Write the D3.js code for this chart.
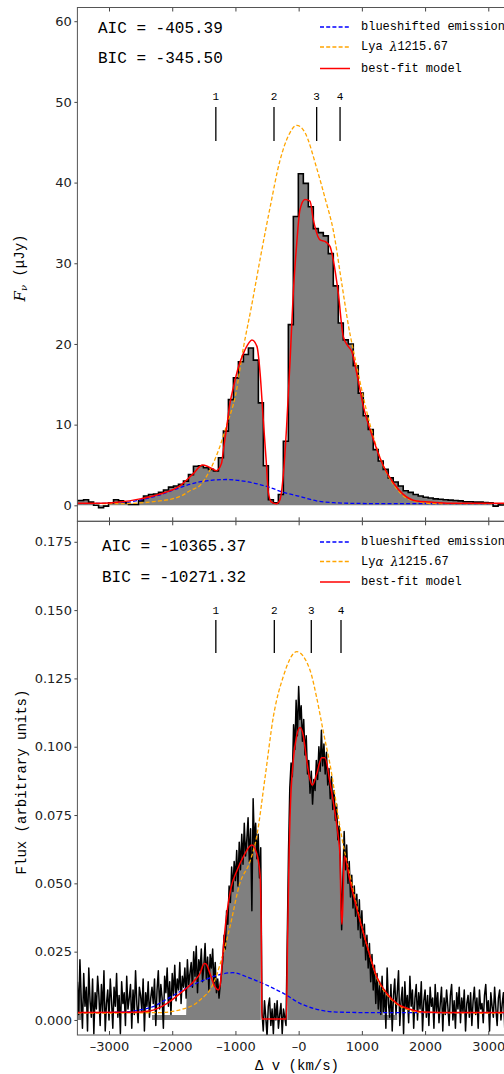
<!DOCTYPE html>
<html>
<head>
<meta charset="utf-8">
<script src="https://cdn.jsdelivr.net/npm/d3@7"></script>
<style>
  body { margin: 0; background: #fff; }
  svg { display: block; }
  .tt { font-family: "Liberation Mono", monospace; fill: #000; }
  .tick text { font-family: "DejaVu Sans", sans-serif; font-size: 13px; fill: #222; }
  .tick line { stroke: #444; }
</style>
</head>
<body>
<div id="chart"></div>
<script>
// ---- data ----
// top panel: binned spectrum (uJy), bins of 79 km/s starting at -3560
var topBinStart = -3560;
var topBinWidth = 79;
var topFlux = [0.6,
  0.6, 0.7, 0.4, 0.0, -0.3, -0.1, 0.3, 0.7, 0.55, 0.3,
  0.1, 0.1, 0.55, 1.15, 1.35, 1.4, 1.6, 1.9, 2.25, 2.4,
  2.6, 3.0, 3.8, 4.85, 4.9, 4.65, 4.45, 4.25, 5.9, 9.2,
  13.1, 15.8, 17.8, 18.7, 19.5, 18.0, 12.7, 4.9, 0.7, 0.3,
  1.35, 7.95, 22.4, 35.8, 41.1, 39.9, 37.0, 34.3, 33.8, 33.4,
  31.2, 27.2, 22.6, 20.5, 20.0, 17.3, 13.9, 11.1, 9.4, 6.9,
  5.5, 4.45, 3.4, 2.9, 2.4, 1.8, 1.6, 1.35, 1.15, 1.0,
  0.9, 0.8, 0.75, 0.7, 0.65, 0.6, 0.55, 0.45, 0.45, 0.4,
  0.4, 0.35, 0.3, -0.1, 0.05, 0.1, 0.1, 0.1];

// top panel model curves
var topRedV = [-3500, -3140, -2830, -2510, -2190, -1880, -1670, -1520, -1430, -1300,
  -1220, -1190, -1140, -1090, -1030, -950, -870, -790, -740, -660,
  -610, -560, -515, -480, -430, -350, -295, -240, -190, -135,
  -85, -30, 20, 100, 179, 232, 338, 417, 496, 548,
  627, 706, 785, 839, 918, 1023, 1181, 1339, 1497, 1655,
  1867, 2078, 2394, 3500];
var topRedF = [0.25, 0.25, 0.4, 0.8, 1.4, 2.4, 3.9, 5.0, 4.8, 4.3,
  5.2, 6.9, 9.6, 12.5, 14.7, 17.2, 18.9, 20.1, 20.5, 19.7,
  16.4, 10.6, 5.7, 1.6, 0.4, 0.2, 0.7, 4.0, 9.8, 18.0,
  26.3, 32.5, 36.6, 37.9, 37.7, 35.4, 32.9, 32.7, 32.1, 30.4,
  26.3, 20.9, 19.7, 19.1, 16.4, 12.3, 8.2, 4.9, 2.8, 1.36,
  0.53, 0.4, 0.25, 0.25];

var topLyaV = [-3500, -2800, -2500, -2200, -2000, -1850, -1700, -1570, -1400, -1250,
  -1140, -1000, -875, -750, -610, -450, -300, -150, -30, 100,
  285, 420, 550, 680, 785, 920, 1050, 1200, 1350, 1500,
  1650, 1850, 2100, 2500, 3500];
var topLyaF = [0.2, 0.22, 0.3, 0.55, 0.8, 1.2, 1.9, 2.4, 4.4, 7.2,
  9.9, 13.6, 19.5, 24.5, 30.5, 37.0, 42.6, 46.0, 47.1, 46.2,
  41.8, 38.0, 34.0, 27.6, 22.4, 17.2, 12.5, 8.0, 4.7, 2.6,
  1.2, 0.5, 0.25, 0.2, 0.2];

var topBlueV = [-3500, -2800, -2510, -2190, -1880, -1570, -1150, -800, -450, -240,
  0, 280, 550, 830, 1500, 3500];
var topBlueF = [0.2, 0.3, 0.66, 1.3, 2.2, 2.9, 3.2, 2.9, 2.2, 1.6,
  1.15, 0.55, 0.33, 0.25, 0.2, 0.2];

// bottom panel: spectrum sampled every 20 km/s from -3500
var botStart = -3500;
var botStep = 20;
var botFlux = [
  // -3500 .. -2320
  0.014, 0.002, 0.022, 0.008, -0.003, 0.017, 0.005, 0.012, -0.004, 0.019,
  0.007, 0.001, 0.015, -0.005, 0.010, 0.004, 0.016, 0.009, -0.002, 0.013,
  0.003, 0.018, -0.004, 0.006, 0.011, 0.000, 0.015, 0.007, -0.003, 0.012,
  0.005, 0.017, 0.001, 0.009, -0.005, 0.014, 0.006, 0.010, -0.002, 0.016,
  0.004, 0.008, 0.013, -0.003, 0.011, 0.002, 0.018, 0.006, -0.001, 0.012,
  0.009, 0.003, 0.015, -0.004, 0.010, 0.005, 0.014, 0.001, 0.008, 0.012,
  // -2300 .. -1720
  0.006, 0.015, -0.002, 0.011, 0.018, 0.004, 0.013, 0.008, -0.003, 0.016,
  0.010, 0.019, 0.005, 0.014, 0.002, 0.017, 0.009, 0.020, 0.007, 0.015,
  0.011, 0.021, 0.006, 0.016, 0.012, 0.019, 0.008, 0.022, 0.013, 0.017,
  // -1700 .. -1320
  0.021, 0.012, 0.025, 0.016, 0.027, 0.010, 0.022, 0.018, 0.026, 0.014,
  0.020, 0.028, 0.015, 0.023, 0.011, 0.024, 0.019, 0.026, 0.013, 0.021,
  // -1300 .. -1220
  0.010, 0.015, 0.008, 0.013, 0.017,
  // -1200 .. -600
  0.022, 0.031, 0.026, 0.040, 0.035, 0.049, 0.043, 0.056, 0.047, 0.058,
  0.051, 0.062, 0.049, 0.065, 0.055, 0.068, 0.057, 0.072, 0.060, 0.066,
  0.074, 0.058, 0.070, 0.040, 0.081, 0.064, 0.072, 0.059, 0.068, 0.052,
  0.063,
  // -580 .. -200
  0.003, -0.004, 0.007, 0.001, -0.006, 0.005, 0.008, -0.002, 0.004, -0.005,
  0.006, 0.000, 0.007, -0.003, 0.002, 0.006, -0.005, 0.004, 0.001, -0.002,
  // -180 .. 1300
  0.030, 0.062, 0.085, 0.094, 0.089, 0.108, 0.099, 0.117, 0.104, 0.122,
  0.110, 0.115, 0.102, 0.110, 0.097, 0.104, 0.090, 0.095, 0.083, 0.091,
  0.079, 0.088, 0.084, 0.095, 0.088, 0.100, 0.091, 0.106, 0.093, 0.101,
  0.090, 0.098, 0.086, 0.092, 0.081, 0.089, 0.077, 0.084, 0.073, 0.079,
  0.066, 0.071, 0.058, 0.033, 0.052, 0.069, 0.055, 0.064, 0.050, 0.058,
  0.045, 0.053, 0.041, 0.049, 0.038, 0.046, 0.033, 0.044, 0.030, 0.040,
  0.027, 0.035, 0.022, 0.031, 0.019, 0.028, 0.014, 0.024, 0.011, 0.020,
  0.006, 0.017, 0.004, 0.014, 0.002,
  // 1320 .. 3480
  0.016, 0.003, 0.011, -0.003, 0.019, 0.006, 0.001, 0.013, -0.004, 0.009,
  0.015, 0.002, 0.010, 0.018, -0.002, 0.007, 0.012, -0.005, 0.014, 0.004,
  0.009, -0.001, 0.016, 0.005, 0.011, -0.003, 0.008, 0.013, 0.000, 0.010,
  0.004, 0.014, -0.004, 0.007, 0.011, 0.001, 0.009, -0.002, 0.012, 0.005,
  0.008, -0.003, 0.013, 0.003, 0.010, -0.001, 0.006, 0.012, -0.004, 0.008,
  0.002, 0.011, 0.005, -0.002, 0.009, 0.013, 0.000, 0.007, -0.003, 0.010,
  0.004, 0.012, -0.001, 0.008, 0.003, 0.011, -0.004, 0.006, 0.009, 0.001,
  0.010, -0.002, 0.007, 0.012, 0.002, 0.008, -0.003, 0.011, 0.004, 0.006,
  -0.001, 0.009, 0.013, 0.003, 0.007, -0.004, 0.010, 0.005, 0.001, 0.012,
  0.004, -0.002, 0.008, 0.011, 0.000, 0.006, 0.010, -0.003, 0.007, 0.003,
  0.009, -0.001, 0.012, 0.004, 0.006, -0.003, 0.010, 0.002, 0.007];

// the grey fill only shows in these velocity windows
var botFillCore = [[-3500, -3440], [-1760, -600], [-180, 1330]];
var botFillBand = [[-2330, -590], [-180, 1560]];
var botBandLevel = 0.0018;

var botRedV = [-3500, -2630, -2360, -2087, -1876, -1665, -1560, -1494, -1465, -1400,
  -1321, -1270, -1240, -1210, -1170, -1077, -970, -870, -740, -665,
  -610, -590, -582, -195, -175, -150, -137, -85, -31, 21,
  74, 127, 180, 216, 285, 364, 416, 495, 574, 627,
  654, 670, 686, 703, 722, 811, 917, 1022, 1101, 1234,
  1392, 1551, 1761, 1972, 2500, 3500];
var botRedF = [0.0027, 0.0028, 0.0033, 0.006, 0.0097, 0.014, 0.017, 0.0207, 0.0205, 0.0168,
  0.012, 0.011, 0.013, 0.021, 0.032, 0.0476, 0.055, 0.060, 0.064, 0.061,
  0.053, 0.029, 0.0004, 0.0004, 0.03, 0.062, 0.074, 0.095, 0.104, 0.107,
  0.104, 0.095, 0.088, 0.086, 0.090, 0.096, 0.096, 0.087, 0.076, 0.067,
  0.060, 0.041, 0.035, 0.045, 0.060, 0.051, 0.041, 0.032, 0.0256, 0.0159,
  0.0098, 0.0061, 0.0039, 0.0029, 0.0027, 0.0027];

var botLyaV = [-3500, -2200, -1876, -1560, -1348, -1165, -1088, -930, -770, -665,
  -530, -400, -243, -30, 180, 285, 390, 523, 602, 681,
  811, 917, 1022, 1101, 1234, 1392, 1551, 1761, 1972, 3500];
var botLyaF = [0.0025, 0.0027, 0.0037, 0.0073, 0.0134, 0.0268, 0.034, 0.050, 0.058, 0.067,
  0.089, 0.111, 0.1257, 0.1348, 0.128, 0.118, 0.1055, 0.090, 0.078, 0.067,
  0.053, 0.042, 0.032, 0.0256, 0.0155, 0.0094, 0.0058, 0.0036, 0.0027, 0.0025];

var botBlueV = [-3500, -2700, -2510, -2300, -2087, -1876, -1560, -1040, -770, -455,
  -245, 21, 285, 601, 1100, 3500];
var botBlueF = [0.0026, 0.003, 0.0037, 0.0049, 0.0076, 0.0104, 0.014, 0.0173, 0.0153, 0.0122,
  0.0098, 0.0061, 0.0039, 0.0029, 0.0027, 0.0027];

// absorption markers
var peakLabels = ["1", "2", "3", "4"];
var peakVelTop = [-1310, -390, 285, 655];
var peakVelBot = [-1310, -385, 200, 670];

// fit statistics
var statsTop = ["AIC = -405.39", "BIC = -345.50"];
var statsBot = ["AIC = -10365.37", "BIC = -10271.32"];

// ticks
var xTicks = [-3000, -2000, -1000, 0, 1000, 2000, 3000];
var xTickLabels = ["\u20133000", "\u20132000", "\u20131000", "\u20130", "1000", "2000", "3000"];
var yTicksTop = [0, 10, 20, 30, 40, 50, 60];
var yTicksBot = [0, 0.025, 0.05, 0.075, 0.1, 0.125, 0.15, 0.175];

// legend
var legendColors = ["#0000ff", "#ffa500", "#ff0000"];
var legendDash = ["4,2.2", "4,2.2", null];

// ---- layout ----
var svgWidth = 504;
var svgHeight = 1074;
var plotLeft = 77.4, plotRight = 519.9;
var topPanel = { top: 7.5, bottom: 521.3 };
var botPanel = { top: 521.3, bottom: 1035 };

var svg = d3.select("#chart")
  .append("svg")
  .attr("width", svgWidth)
  .attr("height", svgHeight);

var x = d3.scaleLinear().domain([-3500, 3500]).range([plotLeft, plotRight]);
var yTop = d3.scaleLinear().domain([-1.98, 61.7]).range([topPanel.bottom, topPanel.top]);
var yBot = d3.scaleLinear().domain([-0.0055, 0.1825]).range([botPanel.bottom, botPanel.top]);

// clip paths so nothing leaks out of the panels
var defs = svg.append("defs");
[["clipTop", topPanel], ["clipBot", botPanel]].forEach(function(c) {
  defs.append("clipPath").attr("id", c[0])
    .append("rect")
    .attr("x", plotLeft).attr("y", c[1].top)
    .attr("width", plotRight - plotLeft).attr("height", c[1].bottom - c[1].top);
});

function zipCurve(vs, fs) {
  return vs.map(function(v, i) { return [v, fs[i]]; });
}

function drawModels(g, y, blue, lya, red) {
  var line = d3.line().x(d => x(d[0])).y(d => y(d[1])).curve(d3.curveMonotoneX);
  g.append("path").datum(blue).attr("d", line)
    .attr("fill", "none").attr("stroke", "#0000ff").attr("stroke-width", 1.3)
    .attr("stroke-dasharray", "4,2.2");
  g.append("path").datum(lya).attr("d", line)
    .attr("fill", "none").attr("stroke", "#ffa500").attr("stroke-width", 1.3)
    .attr("stroke-dasharray", "4,2.2");
  g.append("path").datum(red).attr("d", line)
    .attr("fill", "none").attr("stroke", "#ff0000").attr("stroke-width", 1.5);
}

// ---- top panel ----
var gTop = svg.append("g").attr("clip-path", "url(#clipTop)");
var topSteps = topFlux.map(function(f, i) { return [topBinStart + i * topBinWidth, f]; });
topSteps.push([topBinStart + topFlux.length * topBinWidth, topFlux[topFlux.length - 1]]);

gTop.append("path").datum(topSteps)
  .attr("d", d3.area().curve(d3.curveStepAfter)
    .x(d => x(d[0])).y0(yTop(0)).y1(d => yTop(d[1])))
  .attr("fill", "#808080");
gTop.append("path").datum(topSteps)
  .attr("d", d3.line().curve(d3.curveStepAfter).x(d => x(d[0])).y(d => yTop(d[1])))
  .attr("fill", "none").attr("stroke", "#000").attr("stroke-width", 1.6);

drawModels(gTop, yTop, zipCurve(topBlueV, topBlueF), zipCurve(topLyaV, topLyaF), zipCurve(topRedV, topRedF));

// ---- bottom panel ----
var gBot = svg.append("g").attr("clip-path", "url(#clipBot)");
var botPts = botFlux.map(function(f, i) { return [botStart + i * botStep, f]; });

function inside(v, wins) {
  return wins.some(function(w) { return v >= w[0] && v <= w[1]; });
}
var greyPts = botPts.map(function(p) {
  var top = 0;
  if (inside(p[0], botFillCore)) top = Math.max(p[1], botBandLevel);
  else if (inside(p[0], botFillBand)) top = botBandLevel;
  return [p[0], top];
});
gBot.append("path").datum(greyPts)
  .attr("d", d3.area().defined(d => d[1] > 0)
    .x(d => x(d[0])).y0(yBot(0)).y1(d => yBot(d[1])))
  .attr("fill", "#808080");
gBot.append("path").datum(botPts)
  .attr("d", d3.line().x(d => x(d[0])).y(d => yBot(d[1])))
  .attr("fill", "none").attr("stroke", "#000").attr("stroke-width", 1.5)
  .attr("stroke-linejoin", "round");

drawModels(gBot, yBot, zipCurve(botBlueV, botBlueF), zipCurve(botLyaV, botLyaF), zipCurve(botRedV, botRedF));

// ---- axes ----
function xAxes(panel, withLabels) {
  svg.append("g").attr("transform", `translate(0, ${panel.bottom})`)
    .call(d3.axisBottom(x).tickValues(xTicks).tickSize(-4).tickPadding(7)
      .tickFormat((d, i) => withLabels ? xTickLabels[i] : ""))
    .call(g => g.select(".domain").remove());
  svg.append("g").attr("transform", `translate(0, ${panel.top})`)
    .call(d3.axisTop(x).tickValues(xTicks).tickSize(-4).tickFormat(""))
    .call(g => g.select(".domain").remove());
}
xAxes(topPanel, false);
xAxes(botPanel, true);

svg.append("g").attr("transform", `translate(${plotLeft}, 0)`)
  .call(d3.axisLeft(yTop).tickValues(yTicksTop).tickSize(3).tickPadding(2.5))
  .call(g => g.select(".domain").remove());
svg.append("g").attr("transform", `translate(${plotLeft}, 0)`)
  .call(d3.axisLeft(yBot).tickValues(yTicksBot).tickSize(3).tickPadding(2.5).tickFormat(d3.format(".3f")))
  .call(g => g.select(".domain").remove());

// frames
[topPanel, botPanel].forEach(function(p) {
  svg.append("rect")
    .attr("x", plotLeft).attr("y", p.top)
    .attr("width", plotRight - plotLeft).attr("height", p.bottom - p.top)
    .attr("fill", "none").attr("stroke", "#555").attr("stroke-width", 1);
});

// ---- peak markers ----
function peaks(vels, labelY, lineTop, lineBottom) {
  var g = svg.append("g");
  g.selectAll("line").data(vels).enter().append("line")
    .attr("x1", d => x(d)).attr("x2", d => x(d))
    .attr("y1", lineTop).attr("y2", lineBottom)
    .attr("stroke", "#000").attr("stroke-width", 1.3);
  g.selectAll("text").data(vels).enter().append("text")
    .attr("class", "tt")
    .attr("x", d => x(d)).attr("y", labelY)
    .attr("text-anchor", "middle").attr("dominant-baseline", "central")
    .attr("font-size", 11)
    .text((d, i) => peakLabels[i]);
}
peaks(peakVelTop, 97, 107, 141);
peaks(peakVelBot, 611, 620, 653);

// ---- stats text ----
function stats(lines, xPos, ys) {
  lines.forEach(function(t, i) {
    svg.append("text").attr("class", "tt")
      .attr("x", xPos).attr("y", ys[i])
      .attr("dominant-baseline", "central")
      .attr("font-size", 16)
      .text(t);
  });
}
stats(statsTop, 98, [29, 59]);
stats(statsBot, 102, [547, 578]);

// ---- legends ----
function legend(ys, greek) {
  var g = svg.append("g");
  ys.forEach(function(yy, i) {
    g.append("line").attr("x1", 320).attr("x2", 350).attr("y1", yy).attr("y2", yy)
      .attr("stroke", legendColors[i]).attr("stroke-width", 1.5)
      .attr("stroke-dasharray", legendDash[i]);
  });
  g.append("text").attr("class", "tt").attr("font-size", 12)
    .attr("x", 361).attr("y", ys[0]).attr("dominant-baseline", "central")
    .text("blueshifted emission");
  var t1 = g.append("text").attr("class", "tt").attr("font-size", 12)
    .attr("x", 361).attr("y", ys[1]).attr("dominant-baseline", "central");
  if (greek) {
    t1.append("tspan").text("Ly");
    t1.append("tspan").attr("font-family", "DejaVu Serif").attr("font-style", "italic").text("\u03b1");
  } else {
    t1.append("tspan").text("Lya");
  }
  t1.append("tspan").text(" ");
  t1.append("tspan").attr("font-family", "DejaVu Serif").attr("font-style", "italic").text("\u03bb");
  t1.append("tspan").text("1215.67");
  g.append("text").attr("class", "tt").attr("font-size", 12)
    .attr("x", 361).attr("y", ys[2]).attr("dominant-baseline", "central")
    .text("best-fit model");
}
legend([27, 47, 68.5], false);
legend([542, 561.5, 582], true);

// ---- axis labels ----
svg.append("text").attr("class", "tt")
  .attr("x", 297).attr("y", 1066)
  .attr("text-anchor", "middle").attr("dominant-baseline", "central")
  .attr("font-size", 14)
  .text("\u0394 v (km/s)");

var yl = svg.append("text").attr("class", "tt")
  .attr("transform", "translate(20, 268) rotate(-90)")
  .attr("text-anchor", "middle").attr("dominant-baseline", "central")
  .attr("font-size", 14);
yl.append("tspan").attr("font-family", "DejaVu Serif").attr("font-style", "italic").attr("font-size", 15).text("F");
yl.append("tspan").attr("font-family", "DejaVu Serif").attr("font-style", "italic").attr("font-size", 10).attr("dy", 3).text("\u03bd");
yl.append("tspan").attr("dy", -3).text(" (\u03bcJy)");

svg.append("text").attr("class", "tt")
  .attr("transform", "translate(22, 782) rotate(-90)")
  .attr("text-anchor", "middle").attr("dominant-baseline", "central")
  .attr("font-size", 14)
  .text("Flux (arbitrary units)");
</script>
</body>
</html>
